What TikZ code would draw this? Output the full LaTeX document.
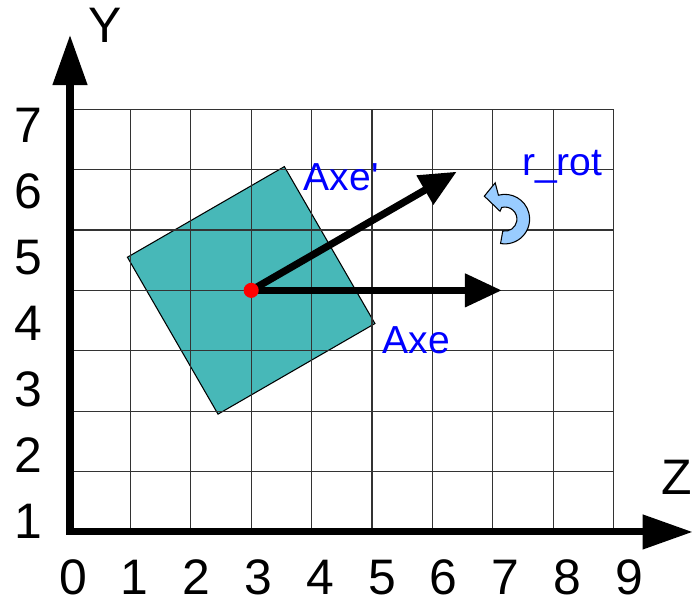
\documentclass[tikz,border=0pt]{standalone}
\usepackage{fontspec}
\setmainfont{Liberation Sans}
\usetikzlibrary{arrows.meta,calc}
\definecolor{squareteal}{RGB}{71,184,184}
\definecolor{rotblue}{RGB}{153,204,255}
\tikzset{
  grid line/.style={black!80, line width=0.6pt},
  axis line/.style={line width=3.3pt,
    {Triangle[length=0.83cm, width=0.55cm]}-{Triangle[length=0.83cm, width=0.55cm]}},
  vec/.style={line width=3.4pt, -{Triangle[length=0.61cm, width=0.53cm]}},
  tick label/.style={font=\fontsize{23.5}{28}\selectfont, anchor=base, inner sep=0pt},
  axe label/.style={font=\fontsize{18.4}{22}\selectfont, text=blue, anchor=base, inner sep=0pt},
}

\begin{document}
\begin{tikzpicture}
  \useasboundingbox (-1.159,-1.175) rectangle (10.315,8.808);
  % rotated body
  \node[rectangle, draw, line width=0.5pt, fill=squareteal, minimum size=3cm,
        inner sep=0pt, outer sep=0pt, rotate=30] (body) at (3,4) {};
  \draw[grid line] (0,0) grid (9,7);
  % axes of the body
  \coordinate (o) at (3,4);
  \coordinate (axe tip) at (7.15,4);
  \coordinate (axep tip) at ($(o)+(30:3.93)$);
  \draw[vec] (o) -- (axe tip);
  \draw[vec] (o) -- (axep tip);
  \node[circle, fill=red, inner sep=0pt, minimum size=0.25cm] (dot) at (o) {};
  % frame
  \coordinate (origin) at (0,0);
  \coordinate (y tip) at (0,8.23);
  \coordinate (z tip) at (10.31,0);
  \draw[axis line] (y tip) -- (origin) -- (z tip);
  \foreach \i in {0,...,9}
    \node[tick label] (z\i) at ({0.05+1.023*\i},-1.04) {\i};
  \foreach \i in {1,...,7}
    \node[tick label] (y\i) at (-0.695,{-0.116+1.093*(\i-1)}) {\i};
  \node[tick label] (y name) at (0.58,8.096) {Y};
  \node[tick label] (z name) at (10.04,0.613) {Z};
  \node[axe label] (axe) at (5.73,2.96) {Axe};
  \node[axe label] (axep) at (4.49,5.66) {Axe\textquotesingle};
  \node[axe label] (rrot) at (8.15,5.91) {r\_rot};
  % rotation sign
  \coordinate (rc) at (7.20,5.18);
  \filldraw[fill=rotblue, draw=black, line width=0.5pt]
    ($(rc)+(105:0.41)$) arc[start angle=105, end angle=-100, radius=0.41]
    -- ($(rc)+(-100:0.2)$) arc[start angle=-100, end angle=105, radius=0.2]
    -- (7.12,5.31) -- (6.86,5.56) -- (7.04,5.78) -- cycle;
\end{tikzpicture}
\end{document}
